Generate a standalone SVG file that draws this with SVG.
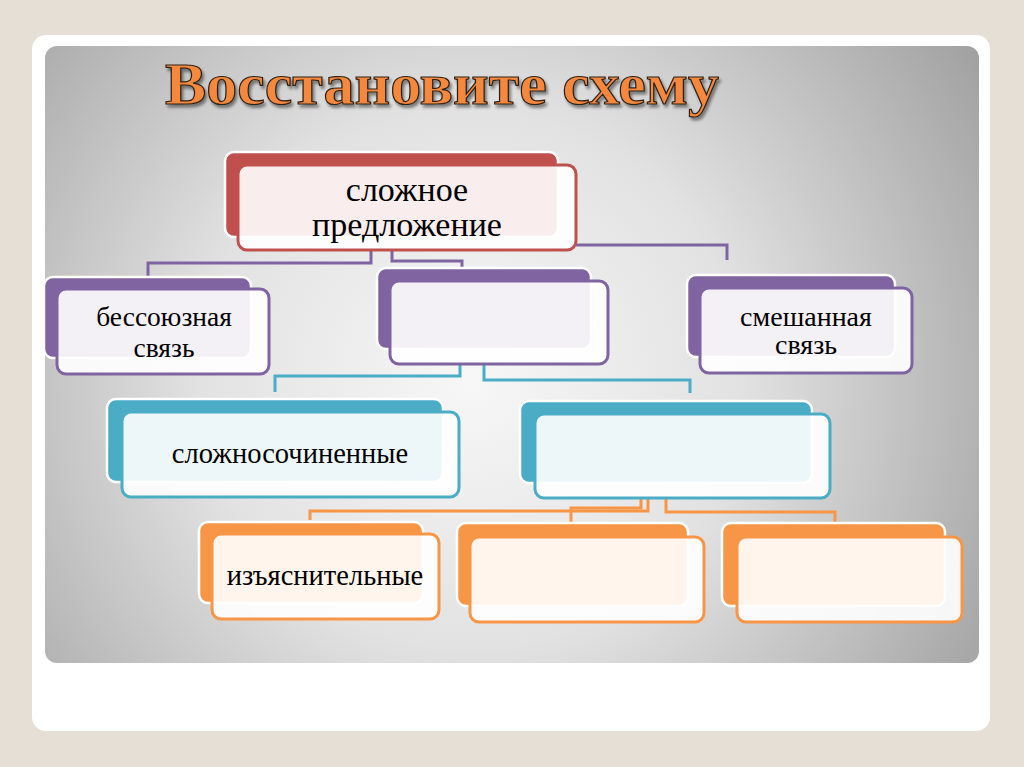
<svg xmlns="http://www.w3.org/2000/svg" width="1024" height="767" viewBox="0 0 1024 767">
<defs>
<radialGradient id="bg" gradientUnits="userSpaceOnUse" cx="470" cy="380" r="600">
<stop offset="0" stop-color="#f7f7f7"/>
<stop offset="0.45" stop-color="#e2e2e2"/>
<stop offset="1" stop-color="#a2a2a2"/>
</radialGradient>
<filter id="sh" x="-5%" y="-20%" width="110%" height="150%">
<feDropShadow dx="2" dy="3" stdDeviation="1.5" flood-color="#000" flood-opacity="0.45"/>
</filter>
<style>
.back{stroke:#fff;stroke-width:2.5}
.front{fill:#fff;fill-opacity:0.9;stroke-width:3}
.red .back{fill:#c0504d}.red .front{stroke:#c0504d}
.pur .back{fill:#8064a2}.pur .front{stroke:#8064a2}
.teal .back{fill:#4bacc6}.teal .front{stroke:#4bacc6}
.ora .back{fill:#f79646}.ora .front{stroke:#f79646}
.c{fill:none;stroke-width:3}
</style>
</defs>
<rect width="1024" height="767" fill="#e5dfd5"/>
<rect x="32" y="35" width="958" height="696" rx="14" fill="#fff"/>
<rect x="45" y="46" width="934" height="617" rx="12" fill="url(#bg)"/>
<text x="442" y="104" font-family="Liberation Serif, Times New Roman, serif" font-weight="bold" font-size="60" fill="#f5883c" stroke="#2e2218" stroke-width="1.2" text-anchor="middle" filter="url(#sh)" textLength="554" lengthAdjust="spacingAndGlyphs">Восстановите схему</text>

<g id="connectors">
<path class="c" stroke="#8064a2" d="M371,250 V263 H148 V277"/>
<path class="c" stroke="#8064a2" d="M392,250 V261 H462 V268"/>
<path class="c" stroke="#8064a2" d="M576,245 H727 V260"/>
<path class="c" stroke="#4bacc6" d="M460,364 V376 H275 V392"/>
<path class="c" stroke="#4bacc6" d="M484,364 V380 H690 V393"/>
<path class="c" stroke="#f79646" d="M648,498 V511 H310 V520"/>
<path class="c" stroke="#f79646" d="M641,498 V508 H571 V522"/>
<path class="c" stroke="#f79646" d="M666,498 V512 H835 V522"/>
</g>

<g id="n-complex" class="red">
<rect class="back" x="225" y="152" width="333" height="85" rx="9"/>
<rect class="front" x="238" y="165" width="338" height="85" rx="9"/>
<text font-family="Liberation Serif, DejaVu Serif, serif" font-size="34" text-anchor="middle" x="407" y="201">сложное</text>
<text font-family="Liberation Serif, DejaVu Serif, serif" font-size="34" text-anchor="middle" x="407" y="236">предложение</text>
</g>

<g id="n-asyndetic" class="pur">
<rect class="back" x="44" y="277" width="207" height="81" rx="9"/>
<rect class="front" x="57" y="289" width="212" height="85" rx="9"/>
<text font-family="Liberation Serif, DejaVu Serif, serif" font-size="27.5" text-anchor="middle" x="164" y="326">бессоюзная</text>
<text font-family="Liberation Serif, DejaVu Serif, serif" font-size="27.5" text-anchor="middle" x="164" y="357">связь</text>
</g>

<g id="n-mid" class="pur">
<rect class="back" x="377" y="268" width="214" height="81" rx="9"/>
<rect class="front" x="390" y="281" width="218" height="83" rx="9"/>
</g>

<g id="n-mixed" class="pur">
<rect class="back" x="687" y="275" width="208" height="82" rx="9"/>
<rect class="front" x="700" y="288" width="212" height="85" rx="9"/>
<text font-family="Liberation Serif, DejaVu Serif, serif" font-size="28" text-anchor="middle" x="806" y="326">смешанная</text>
<text font-family="Liberation Serif, DejaVu Serif, serif" font-size="28" text-anchor="middle" x="806" y="354">связь</text>
</g>

<g id="n-compound" class="teal">
<rect class="back" x="107" y="399" width="336" height="83" rx="9"/>
<rect class="front" x="122" y="412" width="337" height="85" rx="9"/>
<text font-family="Liberation Serif, DejaVu Serif, serif" font-size="28.5" text-anchor="middle" x="290" y="463">сложносочиненные</text>
</g>

<g id="n-complex2" class="teal">
<rect class="back" x="520" y="401" width="292" height="82" rx="9"/>
<rect class="front" x="535" y="414" width="295" height="84" rx="9"/>
</g>

<g id="n-explan" class="ora">
<rect class="back" x="199" y="522" width="224" height="81" rx="9"/>
<rect class="front" x="212" y="534" width="227" height="85" rx="9"/>
<text font-family="Liberation Serif, DejaVu Serif, serif" font-size="28.5" text-anchor="middle" x="325" y="585">изъяснительные</text>
</g>

<g id="n-o2" class="ora">
<rect class="back" x="457" y="523" width="231" height="83" rx="9"/>
<rect class="front" x="470" y="537" width="234" height="85" rx="9"/>
</g>

<g id="n-o3" class="ora">
<rect class="back" x="722" y="523" width="223" height="83" rx="9"/>
<rect class="front" x="737" y="537" width="225" height="85" rx="9"/>
</g>
</svg>
